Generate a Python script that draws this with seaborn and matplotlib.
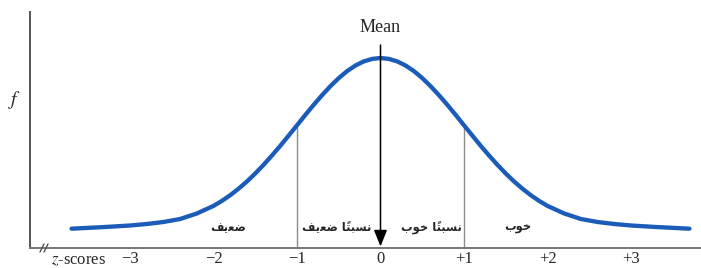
import matplotlib
matplotlib.use("Agg")
import matplotlib.pyplot as plt
from matplotlib.lines import Line2D
import seaborn as sns
import pandas as pd

# z-scores and curve height (f, arbitrary units)
z_values = [-3.7, -3.3, -3.0, -2.8, -2.6, -2.4, -2.2, -2.0, -1.9, -1.8, -1.7, -1.6, -1.5,
            -1.4, -1.3, -1.2, -1.1, -1.0, -0.9, -0.8, -0.7, -0.6, -0.5, -0.4, -0.3,
            -0.2, -0.1, 0.0, 0.1, 0.2, 0.3, 0.4, 0.5, 0.6, 0.7, 0.8, 0.9, 1.0, 1.1,
            1.2, 1.3, 1.4, 1.5, 1.6, 1.7, 1.8, 1.9, 2.0, 2.2, 2.4, 2.6, 2.8, 3.0,
            3.3, 3.7]
f_values = [19.3, 21.0, 22.5, 24.0, 26.0, 29.0, 34.5, 42.1, 47.1, 52.8, 59.3, 66.5, 74.5,
            83.2, 92.5, 102.2, 112.4, 122.7, 133.1, 143.2, 152.8, 161.8, 169.9, 176.9, 182.5,
            186.6, 189.1, 190.0, 189.1, 186.6, 182.5, 176.9, 169.9, 161.8, 152.8, 143.2, 133.1,
            122.7, 112.4, 102.2, 92.5, 83.2, 74.5, 66.5, 59.3, 52.8, 47.1, 42.1, 34.5, 29.0,
            26.0, 24.0, 22.5, 21.0, 19.3]

tick_positions = [-3, -2, -1, 0, 1, 2, 3]
tick_labels = ["\u22123", "\u22122", "\u22121", "0", "+1", "+2", "+3"]

# Persian labels (shaped presentation forms, visual order)
band_positions = [-1.83, -0.52, 0.61, 1.64]
band_labels = [
    "\uFED2\uFBFE\uFECC\uFEBF",                                   # ضعیف
    "\uFED2\uFBFE\uFECC\uFEBF \uFE8E\u064B\uFE98\uFE92\uFEB4\uFEE7",  # نسبتاً ضعیف
    "\uFE8F\uFEEE\uFEA7 \uFE8E\u064B\uFE98\uFE92\uFEB4\uFEE7",        # نسبتاً خوب
    "\uFE8F\uFEEE\uFEA7",                                          # خوب
]

df = pd.DataFrame({"z": z_values, "f": f_values})

sns.set_style("white")
plt.rcParams["mathtext.fontset"] = "stix"
W, H = 701, 268
fig = plt.figure(figsize=(W / 100, H / 100), dpi=100)
ax = fig.add_axes([30 / W, (H - 248) / H, (W - 30) / W, (248 - 12) / H])

sns.lineplot(data=df, x="z", y="f", ax=ax, color="#1a5cb8", linewidth=3.1, legend=False)

ax.set_xlim((30 - 380.5) / 83.5, (701 - 380.5) / 83.5)
ax.set_ylim(0, 236)

# vertical lines at -1 and +1
for zz in (-1, 1):
    fv = f_values[z_values.index(float(zz))]
    ax.plot([zz, zz], [0, fv], color="#8c8c8c", lw=1.0, zorder=1)

# mean arrow
ax.annotate("", xy=(0, 1.5), xytext=(0, 203),
            arrowprops=dict(arrowstyle="-|>,head_length=1.0,head_width=0.4",
                            color="black", lw=1.1, shrinkA=0, shrinkB=0))
ax.text(0, 221, "Mean", ha="center", va="center", fontsize=13,
        family="Liberation Serif")

for pos, lab in zip(band_positions, band_labels):
    ax.text(pos, 20, lab, ha="center", va="center", fontsize=8.3,
            family="DejaVu Sans", fontweight="bold")

ax.set_xticks(tick_positions)
ax.set_xticklabels(tick_labels, family="Liberation Serif", fontsize=12)
ax.tick_params(axis="x", length=0, pad=2)
ax.set_yticks([])
ax.set_xlabel("")
ax.set_ylabel("")

for s in ("top", "right"):
    ax.spines[s].set_visible(False)
ax.spines["left"].set_color("#555555")
ax.spines["left"].set_linewidth(1.4)
ax.spines["bottom"].set_color("#777777")
ax.spines["bottom"].set_linewidth(1.4)

ax.text(-3.62, -0.052, "$z$-scores", transform=ax.get_xaxis_transform(),
        ha="center", va="center", fontsize=12, family="Liberation Serif")
fig.text(15 / W, 1 - 100 / H, "$f$", ha="center", va="center", fontsize=14)

# axis break marks
for px in (42, 46):
    fig.add_artist(Line2D([(px - 2) / W, (px + 2) / W], [(H - 252) / H, (H - 244) / H],
                          color="#555555", lw=1.0))

fig.savefig("out.png", dpi=100)
